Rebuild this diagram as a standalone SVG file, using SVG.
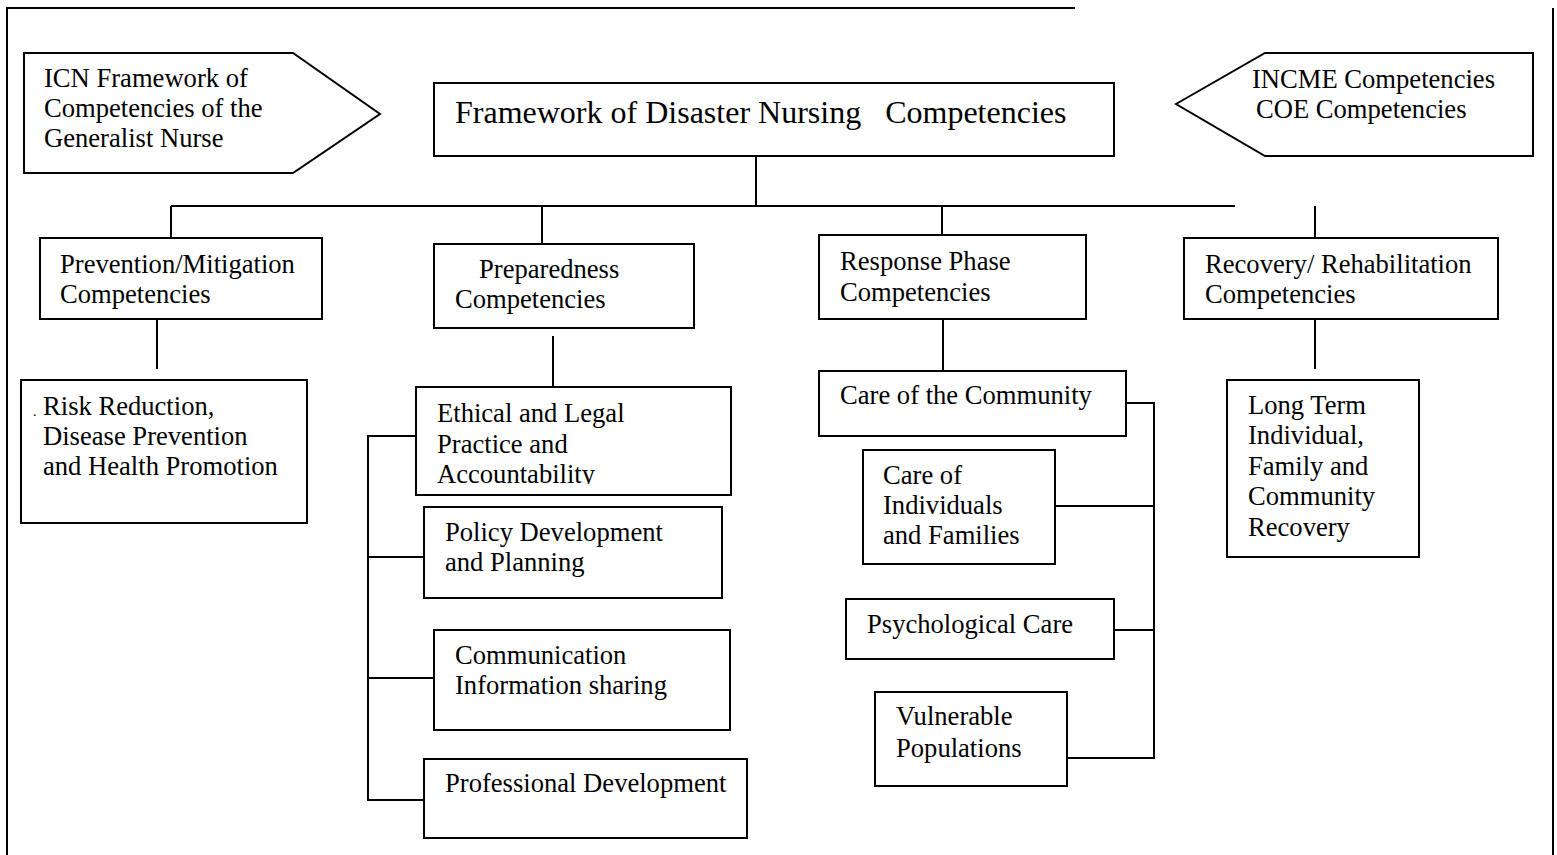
<svg xmlns="http://www.w3.org/2000/svg" width="1557" height="855" viewBox="0 0 1557 855">
<style>
.b{fill:#fff;stroke:#000;stroke-width:2}
.c{fill:none;stroke:#000;stroke-width:2}
text{font-family:"Liberation Serif","Times New Roman",serif;font-size:26.6px;fill:#000}
.t{font-size:32px}
</style>
<defs>
<clipPath id="clipEth"><rect x="416" y="387" width="315" height="97"/></clipPath>
</defs>
<rect x="0" y="0" width="1557" height="855" fill="#fff"/>
<g id="frame" class="c">
<path class="c" d="M7,855 V8 H1075"/>
<path class="c" d="M1553,8 V855"/>
</g>
<g id="connectors">
<path class="c" d="M756,150 V206"/>
<path class="c" d="M171,206 H1235"/>
<path class="c" d="M171,206 V238"/>
<path class="c" d="M542,206 V244"/>
<path class="c" d="M942,206 V235"/>
<path class="c" d="M1315,206 V238"/>
<path class="c" d="M157,319 V369"/>
<path class="c" d="M553,336 V387"/>
<path class="c" d="M943,319 V371"/>
<path class="c" d="M1315,319 V369"/>
<path class="c" d="M416,436 H368 V800 H424"/>
<path class="c" d="M368,557 H424"/>
<path class="c" d="M368,678 H434"/>
<path class="c" d="M1126,403 H1154 V758 H1067"/>
<path class="c" d="M1055,506 H1154"/>
<path class="c" d="M1114,630 H1154"/>
</g>
<g id="icn">
<polygon class="b" points="24,53 293,53 380,114 293,173 24,173"/>
<text x="44" y="87">ICN Framework of</text>
<text x="44" y="117">Competencies of the</text>
<text x="44" y="147">Generalist Nurse</text>
</g>
<g id="incme">
<polygon class="b" points="1176,104 1265,53 1533,53 1533,156 1265,156"/>
<text x="1252" y="88">INCME Competencies</text>
<text x="1256" y="118">COE Competencies</text>
</g>
<g id="title">
<rect class="b" x="434" y="83" width="680" height="73"/>
<text class="t" x="455" y="123" xml:space="preserve">Framework of Disaster Nursing   Competencies</text>
</g>
<g id="prevention">
<rect class="b" x="40" y="238" width="282" height="81"/>
<text x="60" y="273">Prevention/Mitigation</text>
<text x="60" y="303">Competencies</text>
</g>
<g id="preparedness">
<rect class="b" x="434" y="244" width="260" height="84"/>
<text x="479" y="278">Preparedness</text>
<text x="455" y="308">Competencies</text>
</g>
<g id="response">
<rect class="b" x="819" y="235" width="267" height="84"/>
<text x="840" y="270">Response Phase</text>
<text x="840" y="301">Competencies</text>
</g>
<g id="recovery">
<rect class="b" x="1184" y="238" width="314" height="81"/>
<text x="1205" y="273">Recovery/ Rehabilitation</text>
<text x="1205" y="303">Competencies</text>
</g>
<g id="risk">
<rect class="b" x="21" y="380" width="286" height="143"/>
<text x="33" y="416" style="font-size:14px">.</text>
<text x="43" y="415">Risk Reduction,</text>
<text x="43" y="445">Disease Prevention</text>
<text x="43" y="475">and Health Promotion</text>
</g>
<g id="ethical">
<rect class="b" x="416" y="387" width="315" height="108"/>
<g clip-path="url(#clipEth)">
<text x="437" y="422">Ethical and Legal</text>
<text x="437" y="453">Practice and</text>
<text x="437" y="483">Accountability</text>
</g>
</g>
<g id="policy">
<rect class="b" x="424" y="507" width="298" height="91"/>
<text x="445" y="541">Policy Development</text>
<text x="445" y="571">and Planning</text>
</g>
<g id="communication">
<rect class="b" x="434" y="630" width="296" height="100"/>
<text x="455" y="664">Communication</text>
<text x="455" y="694">Information sharing</text>
</g>
<g id="professional">
<rect class="b" x="424" y="759" width="323" height="79"/>
<text x="445" y="792">Professional Development</text>
</g>
<g id="community">
<rect class="b" x="819" y="371" width="307" height="65"/>
<text x="840" y="404">Care of the Community</text>
</g>
<g id="individuals">
<rect class="b" x="863" y="450" width="192" height="114"/>
<text x="883" y="484">Care of</text>
<text x="883" y="514">Individuals</text>
<text x="883" y="544">and Families</text>
</g>
<g id="psychological">
<rect class="b" x="846" y="599" width="268" height="60"/>
<text x="867" y="633">Psychological Care</text>
</g>
<g id="vulnerable">
<rect class="b" x="875" y="692" width="192" height="94"/>
<text x="896" y="725">Vulnerable</text>
<text x="896" y="757">Populations</text>
</g>
<g id="longterm">
<rect class="b" x="1227" y="380" width="192" height="177"/>
<text x="1248" y="414">Long Term</text>
<text x="1248" y="444">Individual,</text>
<text x="1248" y="475">Family and</text>
<text x="1248" y="505">Community</text>
<text x="1248" y="536">Recovery</text>
</g>
</svg>
